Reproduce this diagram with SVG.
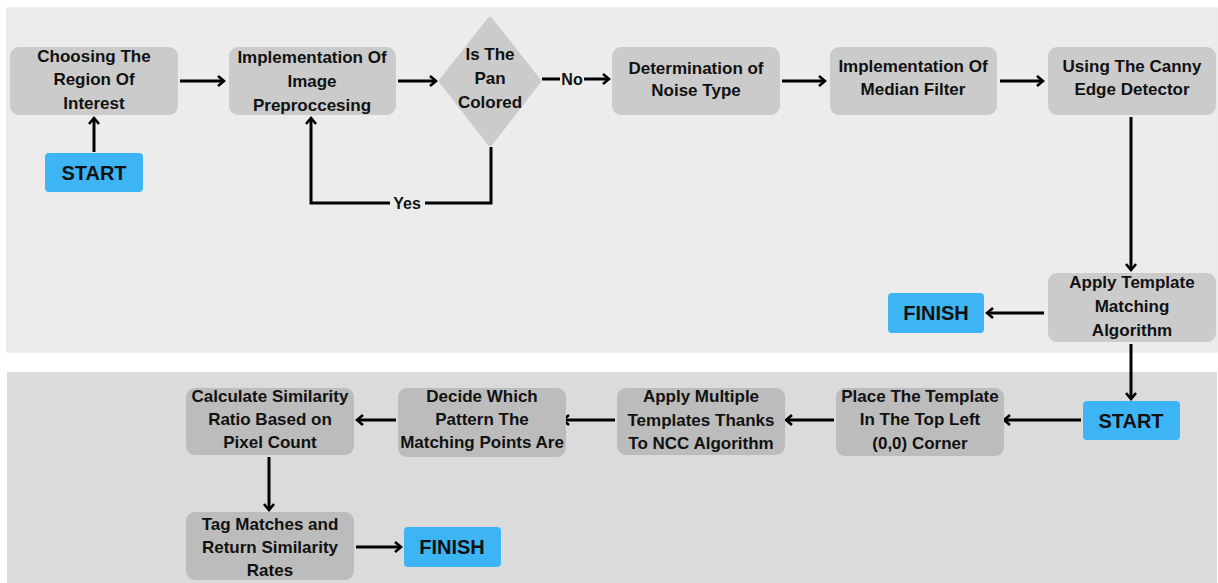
<svg xmlns="http://www.w3.org/2000/svg" width="1218" height="583" viewBox="0 0 1218 583">
<defs>
<style>
.t{font-family:"Liberation Sans",Arial,sans-serif;font-weight:bold;font-size:17px;fill:#111;text-anchor:middle}
.b{font-family:"Liberation Sans",Arial,sans-serif;font-weight:bold;font-size:20px;fill:#111;text-anchor:middle}
.l{font-family:"Liberation Sans",Arial,sans-serif;font-weight:bold;font-size:16px;fill:#111;text-anchor:middle}
.n1{fill:#cbcbcb}
.n2{fill:#bcbcbc}
.bl{fill:#3db5f5}
.c{fill:none;stroke:#000;stroke-width:3}
</style>
<marker id="a" viewBox="0 0 12 12" refX="10" refY="6" markerWidth="12" markerHeight="12" markerUnits="userSpaceOnUse" orient="auto">
<path d="M4,1 L10,6 L4,11" fill="none" stroke="#000" stroke-width="2.6" stroke-linejoin="miter"/>
</marker>
</defs>
<rect x="0" y="0" width="1218" height="583" fill="#fff"/>
<rect x="7" y="8" width="1210" height="344" fill="#ececec" stroke="#e2e2e2" stroke-width="1"/>
<rect x="7" y="372" width="1210" height="211" fill="#dbdbdb"/>

<g id="connectors">
<path class="c" d="M180,81 H224" marker-end="url(#a)"/>
<path class="c" d="M398,81 H436" marker-end="url(#a)"/>
<path class="c" d="M542,79 H560 M584,79 H609" marker-end="url(#a)"/>
<text class="l" x="572" y="85">No</text>
<path class="c" d="M782,81 H825" marker-end="url(#a)"/>
<path class="c" d="M1000,81 H1043" marker-end="url(#a)"/>
<path class="c" d="M94,152 V118" marker-end="url(#a)"/>
<path class="c" d="M491,147 V203 H425 M390,203 H311 V118" marker-end="url(#a)"/>
<text class="l" x="407" y="209">Yes</text>
<path class="c" d="M1131,117 V270" marker-end="url(#a)"/>
<path class="c" d="M1044,313 H987" marker-end="url(#a)"/>
<path class="c" d="M1131,344 V399" marker-end="url(#a)"/>
<path class="c" d="M1081,420 H1004" marker-end="url(#a)"/>
<path class="c" d="M834,420 H786" marker-end="url(#a)"/>
<path class="c" d="M615,420 H563" marker-end="url(#a)"/>
<path class="c" d="M396,420 H357" marker-end="url(#a)"/>
<path class="c" d="M269,457 V510" marker-end="url(#a)"/>
<path class="c" d="M356,547 H401" marker-end="url(#a)"/>
</g>

<g id="choosing"><rect class="n1" x="10" y="47" width="168" height="68" rx="9"/>
<text class="t" x="94" y="62">Choosing The</text><text class="t" x="94" y="85">Region Of</text><text class="t" x="94" y="109">Interest</text></g>

<g id="preproc"><rect class="n1" x="229" y="47" width="167" height="68" rx="9"/>
<text class="t" x="312" y="63">Implementation Of</text><text class="t" x="312" y="87">Image</text><text class="t" x="312" y="111">Preproccesing</text></g>

<g id="decision"><path class="n1" d="M490,20 L538,81 L490,143 L442,81 Z" stroke="#cbcbcb" stroke-width="6" stroke-linejoin="round"/>
<text class="t" x="490" y="60">Is The</text><text class="t" x="490" y="84">Pan</text><text class="t" x="490" y="108">Colored</text></g>

<g id="noise"><rect class="n1" x="612" y="47" width="168" height="68" rx="9"/>
<text class="t" x="696" y="74">Determination of</text><text class="t" x="696" y="96">Noise Type</text></g>

<g id="median"><rect class="n1" x="830" y="47" width="167" height="68" rx="9"/>
<text class="t" x="913" y="72">Implementation Of</text><text class="t" x="913" y="95">Median Filter</text></g>

<g id="canny"><rect class="n1" x="1048" y="47" width="168" height="68" rx="9"/>
<text class="t" x="1132" y="72">Using The Canny</text><text class="t" x="1132" y="95">Edge Detector</text></g>

<g id="start1"><rect class="bl" x="45" y="153" width="98" height="39" rx="4"/>
<text class="b" x="94" y="180">START</text></g>

<g id="template"><rect class="n1" x="1048" y="273" width="168" height="69" rx="9"/>
<text class="t" x="1132" y="288">Apply Template</text><text class="t" x="1132" y="312">Matching</text><text class="t" x="1132" y="336">Algorithm</text></g>

<g id="finish1"><rect class="bl" x="888" y="293" width="96" height="40" rx="4"/>
<text class="b" x="936" y="320">FINISH</text></g>

<g id="start2"><rect class="bl" x="1083" y="401" width="97" height="39" rx="4"/>
<text class="b" x="1131" y="428">START</text></g>

<g id="place"><rect class="n2" x="836" y="388" width="168" height="68" rx="9"/>
<text class="t" x="920" y="402">Place The Template</text><text class="t" x="920" y="425">In The Top Left</text><text class="t" x="920" y="449">(0,0) Corner</text></g>

<g id="multiple"><rect class="n2" x="617" y="388" width="168" height="67" rx="9"/>
<text class="t" x="701" y="402">Apply Multiple</text><text class="t" x="701" y="426">Templates Thanks</text><text class="t" x="701" y="449">To NCC Algorithm</text></g>

<g id="decide"><rect class="n2" x="398" y="388" width="168" height="69" rx="9"/>
<text class="t" x="482" y="402">Decide Which</text><text class="t" x="482" y="425">Pattern The</text><text class="t" x="482" y="448">Matching Points Are</text></g>

<g id="calc"><rect class="n2" x="186" y="388" width="168" height="67" rx="9"/>
<text class="t" x="270" y="402">Calculate Similarity</text><text class="t" x="270" y="425">Ratio Based on</text><text class="t" x="270" y="448">Pixel Count</text></g>

<g id="tag"><rect class="n2" x="186" y="512" width="168" height="68" rx="9"/>
<text class="t" x="270" y="530">Tag Matches and</text><text class="t" x="270" y="553">Return Similarity</text><text class="t" x="270" y="576">Rates</text></g>

<g id="finish2"><rect class="bl" x="404" y="527" width="97" height="40" rx="4"/>
<text class="b" x="452" y="554">FINISH</text></g>
</svg>
